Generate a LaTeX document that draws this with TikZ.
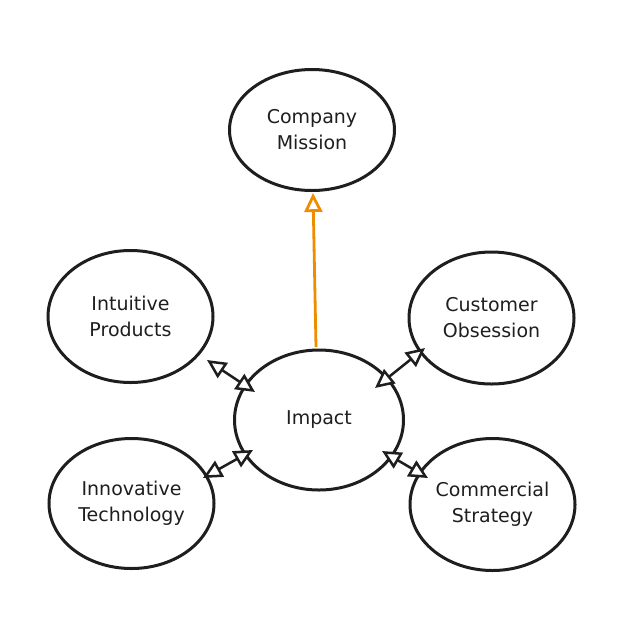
\documentclass[tikz,border=0pt]{standalone}
\usepackage{fontspec}
\setmainfont{DejaVu Sans}
\usetikzlibrary{shapes.geometric,arrows.meta}
\definecolor{inkblack}{HTML}{1E1E1E}
\definecolor{inkorange}{HTML}{F08C00}
\begin{document}
\begin{tikzpicture}
  [x=1pt,y=-1pt,
   >={Triangle[open,length=19pt,width=18pt,fill=white]},
   bubble/.style={ellipse,draw=inkblack,line width=3pt,inner sep=0pt,
     minimum width=165pt,minimum height=132pt,align=center,
     font=\fontsize{19}{26}\selectfont,text=inkblack},
   link/.style={draw=inkblack,line width=2.5pt,<->},
   goal/.style={draw=inkorange,line width=2.8pt,->}]
  \useasboundingbox (0,0) rectangle (634,625);
  \node[bubble,minimum height=121pt] (mission) at (312,130) {Company\\Mission};
  \node[bubble] (products)   at (130.5,316.5) {Intuitive\\Products};
  \node[bubble] (obsession)  at (491.5,318)   {Customer\\Obsession};
  \node[bubble,minimum width=169pt,minimum height=140pt] (impact) at (319,420) {Impact};
  \node[bubble,minimum height=130pt] (technology) at (131.5,503.5) {Innovative\\Technology};
  \node[bubble] (strategy)   at (492.5,504.5) {Commercial\\Strategy};
  \draw[goal] ([shift={(-3,-73)}]impact.center) -- ([shift={(1,63)}]mission.center);
  \draw[link] ([shift={(-64,-28)}]impact.center) -- ([shift={(76.5,43.5)}]products.center);
  \draw[link] ([shift={(56,-32)}]impact.center) -- ([shift={(-66.5,30)}]obsession.center);
  \draw[link] ([shift={(-66,30)}]impact.center) -- ([shift={(71.5,-25.5)}]technology.center);
  \draw[link] ([shift={(63,31)}]impact.center) -- ([shift={(-64.5,-26.5)}]strategy.center);
\end{tikzpicture}
\end{document}
